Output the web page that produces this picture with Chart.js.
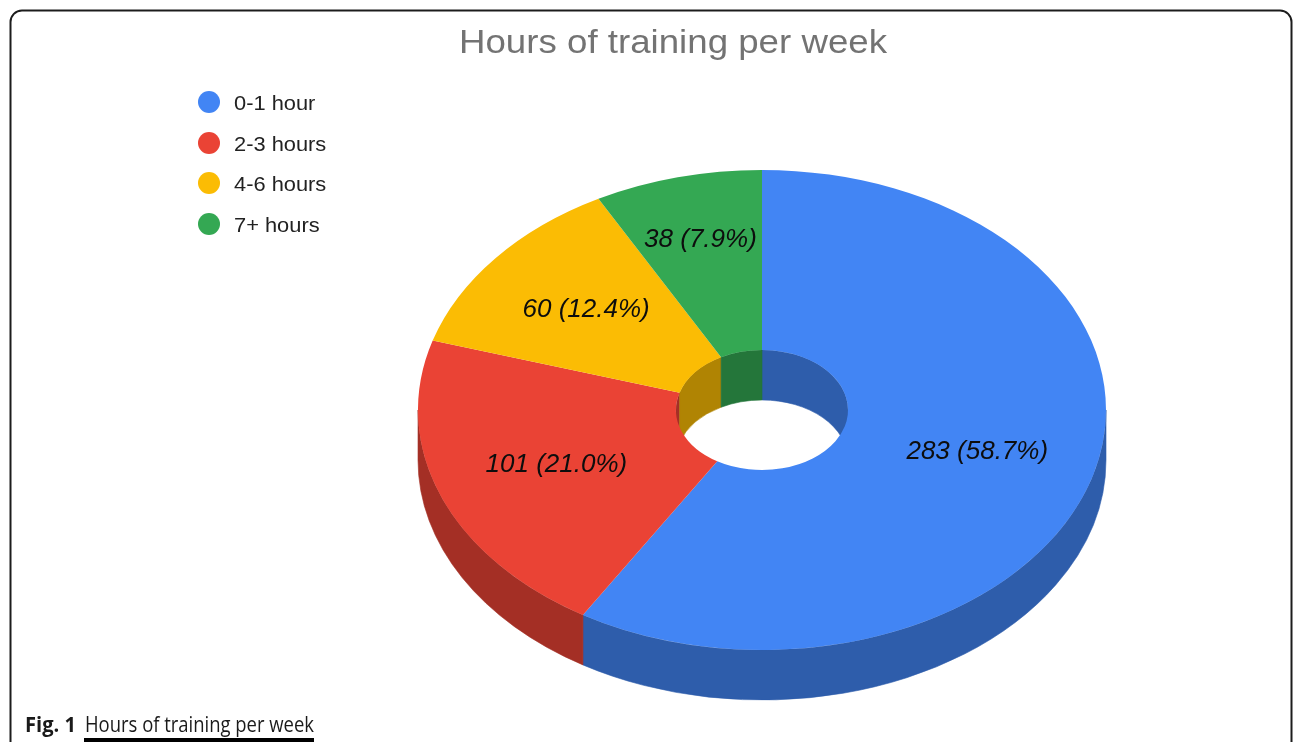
<!DOCTYPE html>
<html>
<head>
<meta charset="utf-8">
<script src="https://cdn.jsdelivr.net/npm/chart.js@4"></script>
<style>
  html,body{margin:0;padding:0;background:#fff;}
  body{width:1293px;height:742px;overflow:hidden;position:relative;}
  #c{position:absolute;left:0;top:0;}
</style>
</head>
<body>
<canvas id="c" width="1293" height="742"></canvas>
<script>
// ---- data ----
const categories = ['0-1 hour', '2-3 hours', '4-6 hours', '7+ hours'];
const counts = [283, 101, 60, 38];
const sliceColors = ['#4285F4', '#EA4335', '#FBBC04', '#34A853'];
const chartTitle = 'Hours of training per week';
const captionBold = 'Fig. 1';
const captionText = 'Hours of training per week';

const total = counts.reduce((a, b) => a + b, 0);
const valueLabels = counts.map(v => v + ' (' + (v / total * 100).toFixed(1) + '%)');

// ---- layout / style ----
const geo = { cx: 762, cy: 410, rx: 344, ry: 240, depth: 50 };
const labelRadius = [0.65, 0.64, 0.66, 0.73];

function shade(hex, f) {
  const n = parseInt(hex.slice(1), 16);
  const r = Math.round(((n >> 16) & 255) * f);
  const g = Math.round(((n >> 8) & 255) * f);
  const b = Math.round((n & 255) * f);
  return 'rgb(' + r + ',' + g + ',' + b + ')';
}

function stretchedText(ctx, text, x, y, targetW, align) {
  const w = ctx.measureText(text).width;
  const sc = targetW ? targetW / w : 1;
  ctx.save();
  ctx.translate(x, y);
  ctx.scale(sc, 1);
  ctx.textAlign = align || 'left';
  ctx.fillText(text, 0, 0);
  ctx.restore();
  return w * sc;
}

const decor = {
  id: 'decor',
  beforeDraw(chart) {
    const ctx = chart.ctx;
    ctx.save();
    ctx.fillStyle = '#fff';
    ctx.fillRect(0, 0, chart.width, chart.height);
    // frame
    ctx.strokeStyle = '#1c1c1c';
    ctx.lineWidth = 2;
    ctx.beginPath();
    ctx.moveTo(10.5, 760);
    ctx.lineTo(10.5, 22);
    ctx.arcTo(10.5, 10.5, 22, 10.5, 11.5);
    ctx.lineTo(1280, 10.5);
    ctx.arcTo(1291.5, 10.5, 1291.5, 22, 11.5);
    ctx.lineTo(1291.5, 760);
    ctx.stroke();
    // title
    ctx.fillStyle = '#737373';
    ctx.font = '34px "Liberation Sans", Arial, sans-serif';
    ctx.textBaseline = 'alphabetic';
    stretchedText(ctx, chartTitle, 673, 53, 428, 'center');
    // legend
    ctx.font = '21px "Liberation Sans", Arial, sans-serif';
    const rows = [102, 143, 183, 224];
    categories.forEach((c, i) => {
      ctx.fillStyle = sliceColors[i];
      ctx.beginPath();
      ctx.arc(209, rows[i], 11, 0, Math.PI * 2);
      ctx.fill();
      ctx.fillStyle = '#222';
      ctx.textAlign = 'left';
      stretchedText(ctx, c, 234, rows[i] + 7.5, ctx.measureText(c).width * 1.04, 'left');
    });
    // caption
    ctx.fillStyle = '#1a1a1a';
    ctx.font = 'bold 21.5px "Open Sans", sans-serif';
    stretchedText(ctx, captionBold, 25, 732, 51, 'left');
    ctx.font = '21.5px "Open Sans", sans-serif';
    stretchedText(ctx, captionText, 85, 732, 229, 'left');
    ctx.fillStyle = '#000';
    ctx.fillRect(84, 738, 230, 4);
    ctx.restore();
  }
};

const pie3d = {
  id: 'pie3d',
  beforeDatasetsDraw(chart) {
    const ctx = chart.ctx;
    const meta = chart.getDatasetMeta(0);
    const a0 = meta.data[0];
    const R0 = a0.outerRadius, Ri0 = a0.innerRadius;
    const sx = geo.rx / R0, sy = geo.ry / R0;
    const rix = Ri0 * sx, riy = Ri0 * sy;
    const { cx, cy, rx, ry, depth } = geo;
    const PI = Math.PI;
    ctx.save();
    meta.data.forEach((arc, i) => {
      const s = arc.startAngle, e = arc.endAngle;
      const dark = shade(sliceColors[i], 0.7);
      ctx.fillStyle = dark;
      ctx.strokeStyle = dark;
      ctx.lineWidth = 0.6;
      // outer front side
      [[0, PI], [2 * PI, 3 * PI]].forEach(([lo, hi]) => {
        const a = Math.max(s, lo), b = Math.min(e, hi);
        if (b <= a) return;
        ctx.beginPath();
        ctx.ellipse(cx, cy, rx, ry, 0, a, b, false);
        ctx.ellipse(cx, cy + depth, rx, ry, 0, b, a, true);
        ctx.closePath();
        ctx.fill();
        ctx.stroke();
      });
      // inner back wall
      [[-PI, 0], [PI, 2 * PI]].forEach(([lo, hi]) => {
        const a = Math.max(s, lo), b = Math.min(e, hi);
        if (b <= a) return;
        ctx.beginPath();
        ctx.ellipse(cx, cy, rix, riy, 0, a, b, false);
        ctx.ellipse(cx, cy + depth, rix, riy, 0, b, a, true);
        ctx.closePath();
        ctx.fill();
        ctx.stroke();
      });
    });
    ctx.restore();
    ctx.save();
    ctx.translate(cx, cy);
    ctx.scale(sx, sy);
    ctx.translate(-a0.x, -a0.y);
  },
  afterDatasetsDraw(chart) {
    const ctx = chart.ctx;
    ctx.restore();
    const meta = chart.getDatasetMeta(0);
    const { cx, cy, rx, ry } = geo;
    ctx.save();
    ctx.fillStyle = '#0d0d0d';
    ctx.font = 'italic 26px "Liberation Sans", Arial, sans-serif';
    ctx.textAlign = 'center';
    ctx.textBaseline = 'middle';
    meta.data.forEach((arc, i) => {
      const m = (arc.startAngle + arc.endAngle) / 2;
      const k = labelRadius[i];
      ctx.fillText(valueLabels[i], cx + k * rx * Math.cos(m), cy + k * ry * Math.sin(m));
    });
    ctx.restore();
  }
};

new Chart(document.getElementById('c'), {
  type: 'doughnut',
  data: {
    labels: categories,
    datasets: [{
      data: counts,
      backgroundColor: sliceColors,
      borderWidth: 0,
      clip: false,
      hoverOffset: 0
    }]
  },
  options: {
    responsive: false,
    animation: false,
    cutout: '25%',
    events: [],
    plugins: {
      legend: { display: false },
      title: { display: false },
      tooltip: { enabled: false }
    }
  },
  plugins: [decor, pie3d]
});
</script>
</body>
</html>
